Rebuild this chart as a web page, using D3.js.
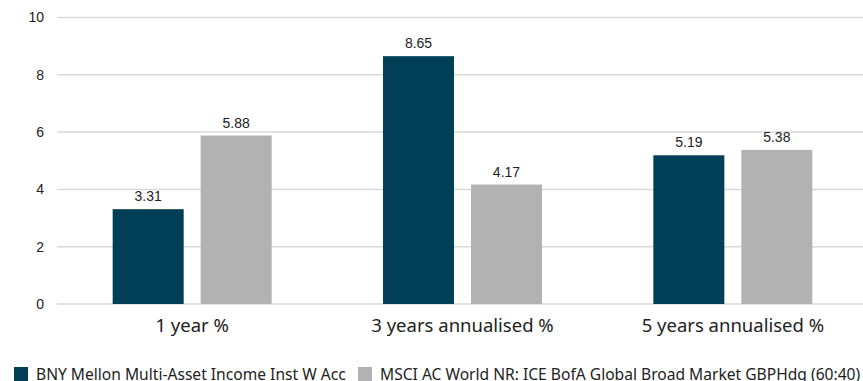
<!DOCTYPE html>
<html><head><meta charset="utf-8">
<script src="https://cdn.jsdelivr.net/npm/d3@7"></script>
<style>body{margin:0;background:#fff;overflow:hidden}</style>
</head><body>
<svg id="c" width="863" height="381"></svg>
<script>
const categories = ["1 year %", "3 years annualised %", "5 years annualised %"];
const seriesNames = ["BNY Mellon Multi-Asset Income Inst W Acc", "MSCI AC World NR: ICE BofA Global Broad Market GBPHdg (60:40)"];
const fundValues = [3.31, 8.65, 5.19];
const benchValues = [5.88, 4.17, 5.38];
const yTicks = [0, 2, 4, 6, 8, 10];
const colors = ["#003F56", "#B2B2B2"];

(function () {
const svg = d3.select("#c");
const pLeft = 57, pRight = 868, pTop = 17.5, pBottom = 304;
const y = d3.scaleLinear().domain([0, 10]).range([pBottom, pTop]);
const x0 = d3.scaleBand().domain(categories).range([pLeft, pRight]).paddingInner(0).paddingOuter(0);
const x1 = d3.scaleBand().domain([0, 1]).range([0, 159]).paddingInner(0.193);
const groupOffset = (x0.bandwidth() - 159) / 2;

svg.append("g").selectAll("line").data(yTicks).join("line")
  .attr("x1", pLeft).attr("x2", 863)
  .attr("y1", d => y(d)).attr("y2", d => y(d))
  .attr("stroke", "#D9D9D9").attr("stroke-width", 1.5);

const yAxis = d3.axisLeft(y).tickValues(yTicks).tickSize(0).tickPadding(0);
const ga = svg.append("g").attr("transform", `translate(44,0)`).call(yAxis);
ga.select(".domain").remove();
ga.selectAll("text").attr("font-family", "Liberation Sans, Arial, sans-serif").attr("font-size", 14).attr("fill", "#222");

const data = categories.map((c, i) => ({ c, vals: [fundValues[i], benchValues[i]] }));
const groups = svg.append("g").selectAll("g").data(data).join("g")
  .attr("transform", d => `translate(${x0(d.c) + groupOffset},0)`);
groups.selectAll("rect").data(d => d.vals.map((v, k) => ({ v, k }))).join("rect")
  .attr("x", d => x1(d.k)).attr("width", x1.bandwidth())
  .attr("y", d => y(d.v)).attr("height", d => y(0) - y(d.v))
  .attr("fill", d => colors[d.k]);
groups.selectAll("text").data(d => d.vals.map((v, k) => ({ v, k }))).join("text")
  .attr("x", d => x1(d.k) + x1.bandwidth() / 2).attr("y", d => y(d.v) - 8)
  .attr("text-anchor", "middle")
  .attr("font-family", "Liberation Sans, Arial, sans-serif").attr("font-size", 14).attr("fill", "#222")
  .text(d => d.v.toFixed(2));

const xAxis = d3.axisBottom(x0).tickSize(0).tickPadding(0);
const gx = svg.append("g").attr("transform", `translate(0,332)`).call(xAxis);
gx.select(".domain").remove();
gx.selectAll("text").attr("font-family", "Noto Sans, sans-serif").attr("font-size", 18.5).attr("fill", "#222").attr("dy", "0");

const legendX = [14, 358];
const lg = svg.append("g").selectAll("g").data(seriesNames).join("g")
  .attr("transform", (d, i) => `translate(${legendX[i]},367)`);
lg.append("rect").attr("width", 14).attr("height", 14).attr("fill", (d, i) => colors[i]);
lg.append("text").attr("x", 22).attr("y", 13)
  .attr("font-family", "Noto Sans, sans-serif").attr("font-size", 15.6).attr("fill", "#222")
  .text(d => d);
})();
</script>
</body></html>
